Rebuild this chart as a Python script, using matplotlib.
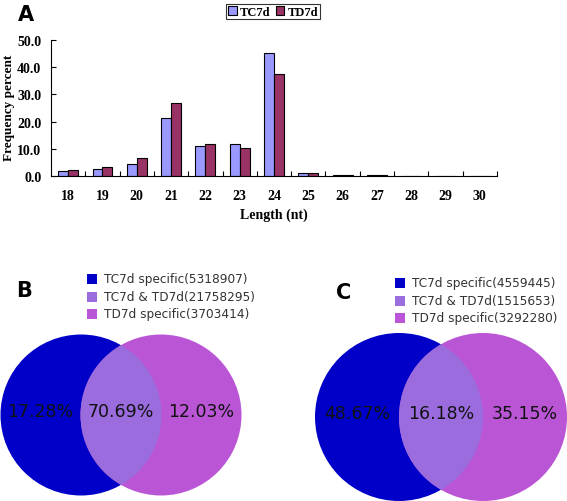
import matplotlib
matplotlib.use("Agg")
import matplotlib.pyplot as plt
from matplotlib.patches import Circle, Patch
import numpy as np

# ---- data ----
lengths = ["18", "19", "20", "21", "22", "23", "24", "25", "26", "27", "28", "29", "30"]
tc7d = [2.0, 2.6, 4.5, 21.4, 10.9, 11.8, 45.4, 1.2, 0.3, 0.3, 0.1, 0.05, 0.05]
td7d = [2.3, 3.3, 6.6, 26.7, 11.7, 10.4, 37.6, 1.2, 0.3, 0.3, 0.1, 0.05, 0.05]
series_names = ["TC7d", "TD7d"]
yticks = [0, 10, 20, 30, 40, 50]

venn_labels = ["TC7d specific", "TC7d & TD7d", "TD7d specific"]
venn_b_counts = [5318907, 21758295, 3703414]
venn_b_pcts = ["17.28%", "70.69%", "12.03%"]
venn_c_counts = [4559445, 1515653, 3292280]
venn_c_pcts = ["48.67%", "16.18%", "35.15%"]

W, H = 567, 502
fig = plt.figure(figsize=(W / 100, H / 100), dpi=100)
fig.patch.set_facecolor("white")

serif = ["Liberation Serif", "DejaVu Serif"]
c_tc = "#9999FF"
c_td = "#993366"

# ---- panel A ----
ax_w = 497 - 51
ax = fig.add_axes([51 / W, 1 - 177 / H, ax_w / W, (177 - 41) / H])
x = np.arange(len(lengths))
bw = 0.29
ax.bar(x - bw / 2, tc7d, bw, color=c_tc, edgecolor="black", linewidth=0.8, label=series_names[0])
ax.bar(x + bw / 2, td7d, bw, color=c_td, edgecolor="black", linewidth=0.8, label=series_names[1])
ax.set_xlim(-0.5, len(lengths) - 0.5)
ax.set_ylim(0, 50)
ax.set_yticks(yticks)
ax.set_yticklabels([f"{v:.1f}" for v in yticks], fontfamily=serif, fontsize=10, fontweight="bold")
ax.set_xticks(x)
ax.set_xticklabels(lengths, fontfamily=serif, fontsize=10, fontweight="bold")
ax.tick_params(axis="x", length=0, pad=9)
ax.set_xticks(np.arange(0.5, len(lengths), 1), minor=True)
ax.tick_params(axis="x", which="minor", direction="in", length=3.5, width=0.8)
ax.tick_params(axis="y", direction="in", length=3.5, width=0.8, pad=7)
for s in ["top", "right"]:
    ax.spines[s].set_visible(False)
for s in ["left", "bottom"]:
    ax.spines[s].set_linewidth(0.8)
ax.set_xlabel("Length (nt)", fontfamily=serif, fontsize=10, fontweight="bold", labelpad=4)
ax.set_ylabel("Frequency percent", fontfamily=serif, fontsize=9.5, fontweight="bold")
ax.yaxis.set_label_coords((15 - 51) / ax_w, 0.505)
leg = fig.legend(handles=[Patch(facecolor=c_tc, edgecolor="black", linewidth=0.8, label=series_names[0]),
                          Patch(facecolor=c_td, edgecolor="black", linewidth=0.8, label=series_names[1])],
                 loc="center", bbox_to_anchor=(273 / W, 1 - 12.5 / H), ncol=2,
                 prop={"family": serif, "size": 9, "weight": "bold"},
                 handlelength=0.7, handleheight=0.7, handletextpad=0.25, columnspacing=0.4,
                 borderpad=0.15, borderaxespad=0, frameon=True, fancybox=False, edgecolor="black")
leg.get_frame().set_linewidth(0.8)

fig.text(18 / W, 1 - 15 / H, "A", fontsize=15, fontweight="bold", family="DejaVu Sans", va="center")

# ---- Venn panels (pixel overlay) ----
ov = fig.add_axes([0, 0, 1, 1])
ov.set_xlim(0, W)
ov.set_ylim(H, 0)
ov.axis("off")

c_left = "#0000C8"
c_mid = "#9A6CDE"
c_right = "#BA55D6"


def venn(cx1, cx2, cy, r, pcts, counts, legx, legy, letter, letx, lety):
    c1 = Circle((cx1, cy), r, facecolor=c_left, edgecolor="none")
    c2 = Circle((cx2, cy), r, facecolor=c_right, edgecolor="none")
    ov.add_patch(c1)
    ov.add_patch(c2)
    c3 = Circle((cx1, cy), r, facecolor=c_mid, edgecolor="none")
    ov.add_patch(c3)
    c3.set_clip_path(Circle((cx2, cy), r, transform=ov.transData))
    xs = [(cx1 - r + cx2 - r) / 2, (cx1 + cx2) / 2, (cx1 + r + cx2 + r) / 2]
    for xp, t in zip(xs, pcts):
        ov.text(xp, cy - 4, t, fontsize=12.5, ha="center", va="center", color="#111111", family="DejaVu Sans")
    cols = [c_left, c_mid, c_right]
    for i, (lab, n) in enumerate(zip(venn_labels, counts)):
        yy = legy + i * 17.5
        ov.add_patch(plt.Rectangle((legx, yy - 5), 10, 10, facecolor=cols[i], edgecolor="none"))
        ov.text(legx + 17, yy, f"{lab}({n})", fontsize=8.7, va="center", ha="left", color="#333333",
                family="DejaVu Sans")
    ov.text(letx, lety, letter, fontsize=15, fontweight="bold", family="DejaVu Sans", va="center")


venn(81, 161, 416, 80.5, venn_b_pcts, venn_b_counts, 87, 280, "B", 16, 291)
venn(399, 483, 418, 84, venn_c_pcts, venn_c_counts, 395, 284, "C", 336, 293)

fig.savefig("out.png", dpi=100)
